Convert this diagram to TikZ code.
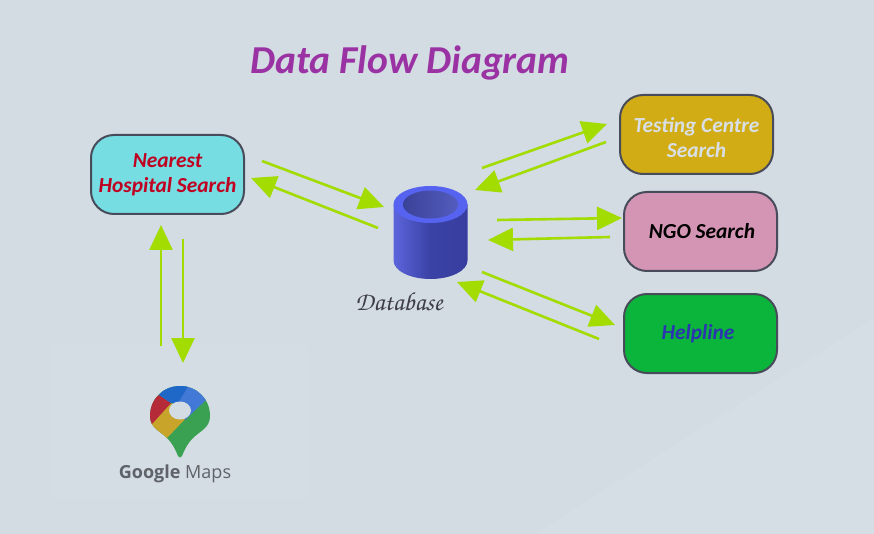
\documentclass[tikz,border=0pt]{standalone}
\usepackage{fontspec}
\setmainfont{Carlito}
\newfontfamily\mapsfont{Open Sans}
\usetikzlibrary{arrows.meta,positioning}
\definecolor{pagebg}{HTML}{D3DBE3}
\definecolor{pagelight}{HTML}{D6DEE5}
\definecolor{mapsbg}{HTML}{D4DCE4}
\definecolor{boxline}{HTML}{484C5A}
\definecolor{flowgreen}{HTML}{A2DC00}
\definecolor{titlepurple}{HTML}{9A32A3}
\tikzset{
  searchbox/.style = {draw = boxline, line width = 2pt, rounded corners = 23pt, minimum width = 153pt, minimum height = 79pt, align = center, font = \fontsize{21.4}{25}\selectfont\bfseries\itshape},
  flowarrow/.style = {draw = flowgreen, line width = 2.6pt, -{Triangle[length = 25pt, width = 23pt]}}
}
\begin{document}
\begin{tikzpicture}[x = 1pt, y = -1pt]
\useasboundingbox (0,0) rectangle (874,534);
\fill[pagebg] (0,0) rectangle (874,534);
\fill[pagelight] (535,534) -- (874,318) -- (874,534) -- cycle;
\fill[mapsbg] (52,345) rectangle (307,498);

\node[font = \fontsize{39.6}{42}\selectfont\bfseries\itshape, text = titlepurple] (title) at (410,63) {Data Flow Diagram};

\node[searchbox, fill = {rgb,255:red,118;green,221;blue,226}, text = {rgb,255:red,192;green,0;blue,32}] (hospital) at (167.5,174.5) {Nearest\\Hospital Search};
\node[searchbox, fill = {rgb,255:red,210;green,172;blue,20}, text = {rgb,255:red,216;green,223;blue,230}] (testing) at (696.5,134.5) {\rule{0pt}{21pt}Testing Centre\\Search};
\node[searchbox, fill = {rgb,255:red,212;green,149;blue,180}, text = black] (ngo) at (700.5,231.5) {\hspace{3pt}NGO Search};
\node[searchbox, fill = {rgb,255:red,11;green,181;blue,59}, text = {rgb,255:red,43;green,53;blue,176}] (helpline) at (700.5,333.5) {Helpline\hspace{5pt}};

% database cylinder
\node[minimum width = 74pt, minimum height = 93pt, inner sep = 0pt] (database) at (430.5,232.5) {};
\shade[left color = {rgb,255:red,92;green,100;blue,220}, right color = {rgb,255:red,56;green,62;blue,160}, middle color = {rgb,255:red,58;green,66;blue,165}]
  (393.5,204.5) -- (393.5,260.5) arc[start angle = 180, end angle = 360, x radius = 37, y radius = -18.5] -- (467.5,204.5) -- cycle;
\fill[fill = {rgb,255:red,85;green,99;blue,240}] (430.5,204.5) ellipse[x radius = 37, y radius = 18.5];
\shade[left color = {rgb,255:red,58;green,66;blue,152}, right color = {rgb,255:red,84;green,92;blue,190}] (430.5,204.5) ellipse[x radius = 27.5, y radius = 14];
\node[font = \fontsize{26}{28}\selectfont\itshape, text = {rgb,255:red,62;green,62;blue,70}, inner sep = 0pt] (dblabel) at (399,302) {\usefont{OT1}{pzc}{m}{it}Database};

% google maps pin
\node[minimum width = 60pt, minimum height = 72pt, inner sep = 0pt] (gmaps) at (180,421) {};
\begin{scope}
\clip (150,416) .. controls (150,399) and (163,386) .. (180,386) .. controls (197,386) and (210,399) .. (210,416) .. controls (210,428) and (200,431) .. (193,438) .. controls (187,444) and (184,451) .. (182,456) .. controls (181,458) and (179,458) .. (178,456) .. controls (176,451) and (173,444) .. (167,438) .. controls (160,431) and (150,428) .. (150,416) -- cycle;
\fill[fill = {rgb,255:red,58;green,160;blue,82}] (145,380) rectangle (215,460);
\fill[fill = {rgb,255:red,200;green,165;blue,42}] (171,403) -- (145,430) -- (167,438) -- (190,414) -- cycle;
\fill[fill = {rgb,255:red,181;green,43;blue,55}] (159,395) -- (171,403) -- (152,424) -- (140,410) -- cycle;
\fill[fill = {rgb,255:red,66;green,120;blue,214}] (188,380) -- (215,395) -- (206,400) -- (185,420) -- (175,400) -- cycle;
\fill[fill = {rgb,255:red,32;green,104;blue,200}] (159,395) -- (171,403) -- (178,403) -- (189,385) -- (170,378) -- cycle;
\end{scope}
\fill[pagebg] (180,410.5) ellipse[x radius = 11, y radius = 9];
\node[font = \mapsfont\fontsize{18}{20}\selectfont, text = {rgb,255:red,95;green,99;blue,104}, inner sep = 0pt] (gmapslabel) at (175,473.5) {\textbf{Google} Maps};

% data flows
\draw[flowarrow] ([shift = {(94.5,-13.5)}]hospital.center) -- ([shift = {(-46.5,-25.5)}]database.center);
\draw[flowarrow] ([shift = {(-52.5,-4.5)}]database.center) -- ([shift = {(83.5,3.5)}]hospital.center);
\draw[flowarrow] ([shift = {(51.5,-64.5)}]database.center) -- ([shift = {(-89.5,-10.5)}]testing.center);
\draw[flowarrow] ([shift = {(-90.5,7.5)}]testing.center) -- ([shift = {(44.5,-42.5)}]database.center);
\draw[flowarrow] ([shift = {(66.5,-12.5)}]database.center) -- ([shift = {(-78.5,-13.5)}]ngo.center);
\draw[flowarrow] ([shift = {(-90.5,5.5)}]ngo.center) -- ([shift = {(57.5,7.5)}]database.center);
\draw[flowarrow] ([shift = {(51.5,39.5)}]database.center) -- ([shift = {(-85.5,-8.5)}]helpline.center);
\draw[flowarrow] ([shift = {(-101.5,5.5)}]helpline.center) -- ([shift = {(26.5,49.5)}]database.center);
\draw[flowarrow] ([shift = {(-19,-75)}]gmaps.center) -- ([shift = {(-6.5,50.5)}]hospital.center);
\draw[flowarrow] ([shift = {(15.5,64.5)}]hospital.center) -- ([shift = {(3,-58)}]gmaps.center);
\end{tikzpicture}
\end{document}
